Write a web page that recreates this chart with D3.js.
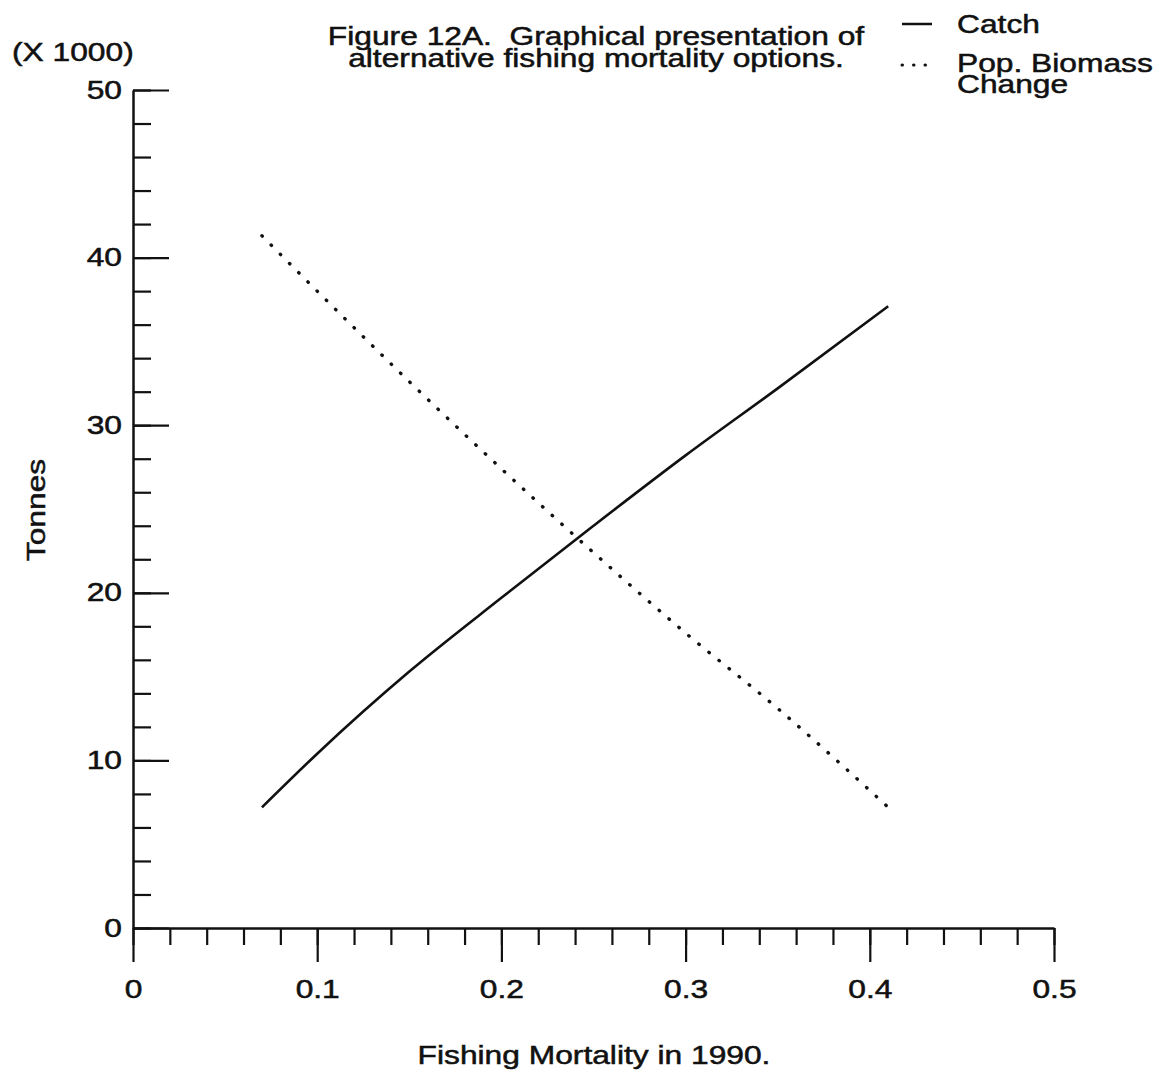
<!DOCTYPE html>
<html>
<head>
<meta charset="utf-8">
<script src="https://cdn.jsdelivr.net/npm/d3@7"></script>
<style>
  body { margin: 0; background: #fff; }
  svg text { font-family: "Liberation Sans", Arial, sans-serif; fill: #111; stroke: #111; stroke-width: 0.5; font-size: 25px; }
</style>
</head>
<body>
<svg id="chart" width="1160" height="1085"></svg>
<script>
// data
const mortality = [0.07, 0.1, 0.15, 0.2, 0.25, 0.3, 0.35, 0.41];
const catchT = [7.2, 10.4, 15.3, 19.7, 24.0, 28.2, 32.2, 37.1];
const biomassChange = [41.3, 38.0, 32.6, 27.4, 22.4, 17.6, 13.1, 7.2];

const xMajor = [0, 0.1, 0.2, 0.3, 0.4, 0.5];
const yMajor = [0, 10, 20, 30, 40, 50];

// the scanned lettering is wider than the font, stretch it sideways
const sx = 1.27;

const svg = d3.select("#chart");

const x = d3.scaleLinear().domain([0, 0.5]).range([133, 1054]);
const y = d3.scaleLinear().domain([0, 50]).range([928, 90]);

function label(px, py, txt, anchor) {
  return svg.append("text")
    .attr("transform", `translate(${px},${py}) scale(${sx},1)`)
    .attr("text-anchor", anchor || "start")
    .text(txt);
}

// y axis: ticks point inside, labels left
svg.append("g")
  .attr("transform", `translate(${x(0)},0)`)
  .call(d3.axisLeft(y).tickValues(d3.range(0, 51, 2)).tickSize(-18).tickSizeOuter(0).tickFormat(""))
  .call(g => g.selectAll("line").attr("stroke-width", 2.2));

svg.append("g")
  .attr("transform", `translate(${x(0)},0)`)
  .call(d3.axisLeft(y).tickValues(yMajor).tickSize(-36).tickSizeOuter(0).tickPadding(11).tickFormat(d3.format("d")))
  .call(g => g.select(".domain").attr("stroke-width", 2.5))
  .call(g => g.selectAll("line").attr("stroke-width", 2.2))
  .call(g => g.selectAll("text").attr("x", -11 / sx).attr("transform", `scale(${sx},1)`));

// x axis: ticks point down
svg.append("g")
  .attr("transform", `translate(0,${y(0)})`)
  .call(d3.axisBottom(x).tickValues(d3.range(0, 0.501, 0.02)).tickSize(17).tickSizeOuter(0).tickFormat(""))
  .call(g => g.selectAll("line").attr("stroke-width", 2.2));

svg.append("g")
  .attr("transform", `translate(0,${y(0)})`)
  .call(d3.axisBottom(x).tickValues(xMajor).tickSize(34).tickSizeOuter(0).tickPadding(18)
    .tickFormat(d => d === 0 ? "0" : d3.format(".1f")(d)))
  .call(g => g.select(".domain").attr("stroke-width", 2.5))
  .call(g => g.selectAll("line").attr("stroke-width", 2.2))
  .call(g => g.selectAll("text").attr("transform", `scale(${sx},1)`));

svg.selectAll(".domain").attr("stroke", "#111");
svg.selectAll(".tick line").attr("stroke", "#111");
svg.selectAll(".tick text").attr("fill", "#111").style("font-size", "25px");

// lines
const line = d3.line().x(d => x(d[0])).y(d => y(d[1])).curve(d3.curveMonotoneX);

svg.append("path")
  .datum(mortality.map((m, i) => [m, catchT[i]]))
  .attr("d", line)
  .attr("fill", "none")
  .attr("stroke", "#111")
  .attr("stroke-width", 2.6);

svg.append("path")
  .datum(mortality.map((m, i) => [m, biomassChange[i]]))
  .attr("d", line)
  .attr("fill", "none")
  .attr("stroke", "#111")
  .attr("stroke-width", 3.4)
  .attr("stroke-linecap", "round")
  .attr("stroke-dasharray", "0.5,12.5");

// texts
label(12, 61, "(X 1000)");

svg.append("text")
  .attr("transform", `translate(45,510) rotate(-90) scale(${sx},1)`)
  .attr("text-anchor", "middle")
  .text("Tonnes");

label(594, 1064, "Fishing Mortality in 1990.", "middle");

label(596, 45, "Figure 12A.  Graphical presentation of", "middle").attr("xml:space", "preserve");
label(596, 67, "alternative fishing mortality options.", "middle");

// legend
svg.append("line").attr("x1", 902).attr("x2", 932).attr("y1", 24).attr("y2", 24)
  .attr("stroke", "#111").attr("stroke-width", 2.5);
label(957, 33, "Catch");
svg.append("line").attr("x1", 902).attr("x2", 932).attr("y1", 65).attr("y2", 65)
  .attr("stroke", "#111").attr("stroke-width", 3).attr("stroke-linecap", "round")
  .attr("stroke-dasharray", "0.5,11");
label(957, 72, "Pop. Biomass");
label(957, 93, "Change");
</script>
</body>
</html>
